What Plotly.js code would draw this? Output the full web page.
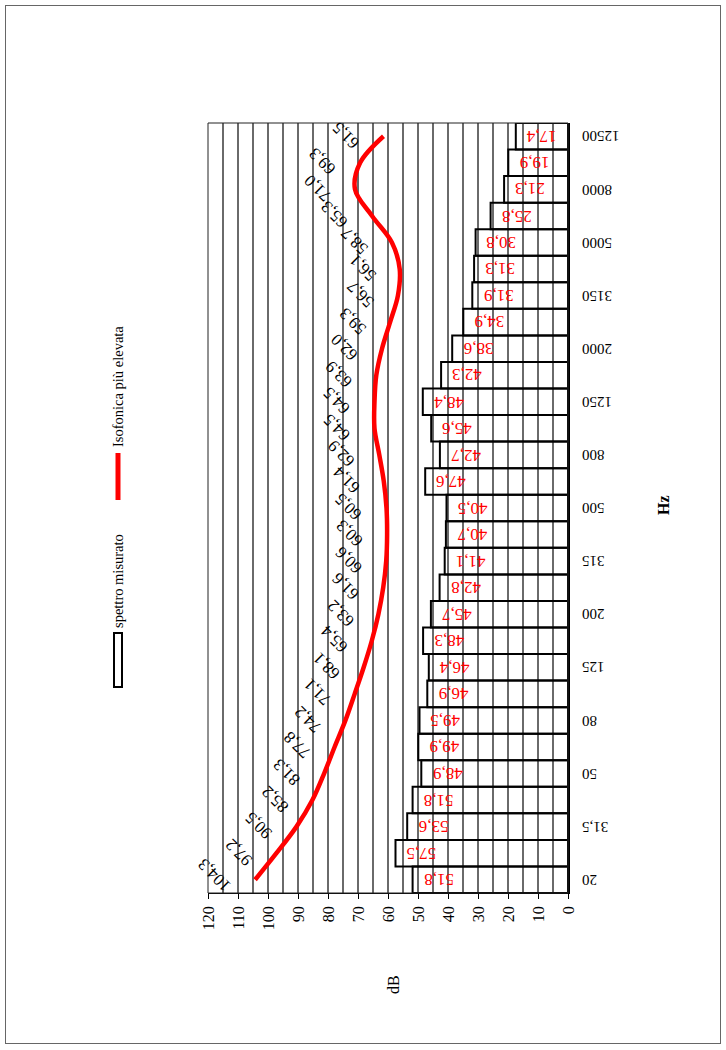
<!DOCTYPE html>
<html><head><meta charset="utf-8">
<script src="https://cdn.plot.ly/plotly-3.0.1.min.js"></script>
<style>
html,body{margin:0;padding:0;background:#fff;}
#page{position:relative;width:726px;height:1050px;overflow:hidden;background:#fff;}
#frame{position:absolute;left:5px;top:5px;width:716px;height:1039px;border:1px solid #666;box-sizing:border-box;z-index:5;pointer-events:none;background:transparent;}
#chart{position:absolute;left:0;top:0;width:1050px;height:726px;transform-origin:0 0;transform:translateY(1050px) rotate(-90deg);z-index:1;}
</style></head><body>
<div id="page"><div id="chart"></div><div id="frame"></div></div>
<script>
// third-octave bands (Hz)
var bands = ["20","25","31,5","40","50","63","80","100","125","160","200","250","315","400","500","630","800","1000","1250","1600","2000","2500","3150","4000","5000","6300","8000","10000","12500"];
// labelled ticks
var tickBands = ["20","31,5","50","80","125","200","315","500","800","1250","2000","3150","5000","8000","12500"];
// measured spectrum (dB)
var spectrum = [51.8,57.5,53.6,51.8,48.9,49.9,49.5,46.9,46.4,48.3,45.7,42.8,41.1,40.7,40.5,47.6,42.7,45.6,48.4,42.3,38.6,34.9,31.9,31.3,30.8,25.8,21.3,19.9,17.4];
// highest isophone (dB)
var isophone = [104.3,97.2,90.5,85.2,81.3,77.8,74.2,71.1,68.1,65.4,63.2,61.6,60.6,60.3,60.5,61.4,62.9,64.5,64.5,63.9,62.0,59.3,56.7,56.1,58.7,65.3,71.0,69.3,61.5];
var seriesNames = ["spettro misurato","Isofonica più elevata"];
var axisTitles = {x:"Hz", y:"dB"};

var FONT = "Liberation Serif, Times New Roman, serif";
function fmt(v){ return v.toFixed(1).replace('.', ','); }

// plot area in landscape pixels
var W=1050, H=726, L=157, R=927, T=208, B=568;
function px(u){ return (u-L)/(R-L); }
function py(v){ return (B-v)/(B-T); }

var traces = [
  {type:'bar', x:bands, y:spectrum, name:seriesNames[0],
   marker:{color:'rgba(0,0,0,0)', line:{color:'#000', width:2}},
   hoverinfo:'skip', showlegend:false},
  {type:'scatter', mode:'lines', x:bands, y:isophone, name:seriesNames[1],
   line:{color:'#ff0000', width:4.5, shape:'spline', smoothing:1},
   hoverinfo:'skip', showlegend:false}
];

var ann = [];
var labFs = 17;
// on a category axis annotations use the category index
isophone.forEach(function(v,i){
  var t = fmt(v);
  var len = labFs*(0.5*(t.length-1)+0.25);
  var d = len/2*0.707;
  ann.push({x:i, y:v, xref:'x', yref:'y', text:t, showarrow:false,
    textangle:-45, xanchor:'center', yanchor:'middle',
    xshift:d-9, yshift:d+27, font:{family:FONT, size:labFs, color:'#000'}});
});
spectrum.forEach(function(v,i){
  ann.push({x:i, y:v, xref:'x', yref:'y', text:fmt(v), showarrow:false,
    textangle:-90, xanchor:'center', yanchor:'top', yshift:-9,
    font:{family:FONT, size:17, color:'#ff0000'}});
});
// axis titles
ann.push({xref:'paper', yref:'paper', x:px(545), y:py(663), text:'<b>'+axisTitles.x+'</b>', showarrow:false,
  xanchor:'center', yanchor:'middle', font:{family:FONT, size:16, color:'#000'}});
ann.push({xref:'paper', yref:'paper', x:px(65), y:py(393), text:axisTitles.y, showarrow:false,
  xanchor:'center', yanchor:'middle', font:{family:FONT, size:16, color:'#000'}});
// legend texts
ann.push({xref:'paper', yref:'paper', x:px(420), y:py(118), text:seriesNames[0], showarrow:false,
  xanchor:'left', yanchor:'middle', font:{family:FONT, size:14.5, color:'#000'}});
ann.push({xref:'paper', yref:'paper', x:px(601), y:py(118), text:seriesNames[1], showarrow:false,
  xanchor:'left', yanchor:'middle', font:{family:FONT, size:14.5, color:'#000'}});

var shapes = [
  {type:'rect', xref:'paper', yref:'paper', x0:0, x1:1, y0:0, y1:1, line:{color:'#222', width:1}, layer:'above'},
  {type:'rect', xref:'paper', yref:'paper', x0:px(363), x1:px(417), y0:py(122), y1:py(114),
   line:{color:'#000', width:2}, fillcolor:'#fff'},
  {type:'line', xref:'paper', yref:'paper', x0:px(550), x1:px(597), y0:py(118), y1:py(118),
   line:{color:'#ff0000', width:5}}
];

var layout = {
  width:W, height:H, margin:{l:L, r:W-R, t:T, b:H-B, pad:0},
  paper_bgcolor:'#fff', plot_bgcolor:'#fff',
  bargap:0, showlegend:false,
  font:{family:FONT, color:'#000'},
  xaxis:{type:'category', range:[-0.5, bands.length-0.5], tickmode:'array',
    tickvals:tickBands, ticktext:tickBands, tickangle:-90,
    tickfont:{family:FONT, size:15, color:'#000'}, ticks:'', ticklabelstandoff:6,
    showline:true, linecolor:'#000', linewidth:2, showgrid:false, zeroline:false, layer:'above traces'},
  yaxis:{range:[0,120], tick0:0, dtick:10, ticks:'outside', ticklen:5, tickcolor:'#000', tickwidth:1,
    tickfont:{family:FONT, size:16, color:'#000'}, ticklabelstandoff:4,
    showgrid:true, gridcolor:'#6a6a6a', gridwidth:1.3,
    minor:{dtick:5, showgrid:true, gridcolor:'#6a6a6a', gridwidth:1.3, ticks:''},
    showline:true, linecolor:'#000', linewidth:1, zeroline:false},
  annotations:ann, shapes:shapes
};

Plotly.newPlot('chart', traces, layout, {staticPlot:true, displayModeBar:false});
</script>
</body></html>
